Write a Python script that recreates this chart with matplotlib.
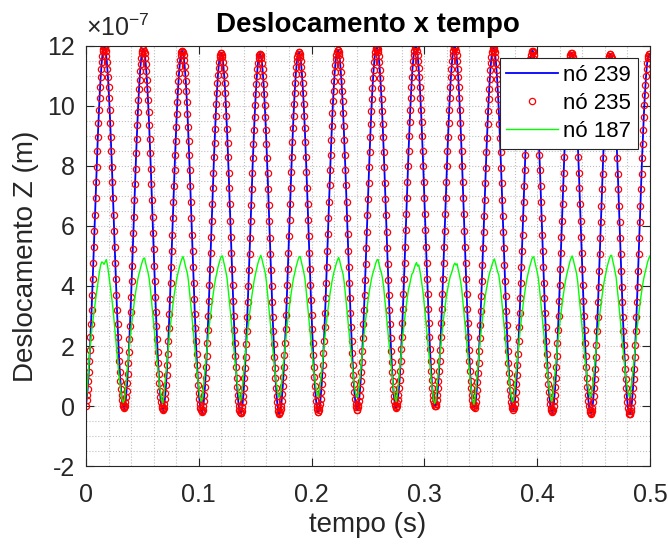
# Deslocamento Z x tempo - nos 239, 235 e 187
import numpy as np
import matplotlib
matplotlib.use('Agg')
import matplotlib.pyplot as plt
from matplotlib.ticker import MultipleLocator, FuncFormatter

plt.rcParams['font.family'] = ['Liberation Sans', 'DejaVu Sans']
plt.rcParams['mathtext.fontset'] = 'custom'
plt.rcParams['mathtext.rm'] = 'Liberation Sans'
plt.rcParams['axes.unicode_minus'] = False

# passo de tempo das series (s)
dt_239 = 0.0005
dt_187 = 0.001

# no 239 - deslocamento Z em nm (1e-9 m), um ciclo por linha
z_239 = [
    0, 19, 36, 58, 84, 115, 149, 187, 229, 274, 321, 371, 422, 475, 529, 583, 638, 692, 746, 798, 849, 897, 943, 986, 1026, 1062, 1095, 1123, 1147, 1167, 1182, 1191, 1196,
    1196, 1191, 1182, 1167, 1147, 1123, 1095, 1062, 1026, 986, 943, 897, 849, 798, 746, 692, 638, 583, 529, 475, 422, 371, 321, 274, 229, 187, 149, 115, 84, 58, 36, 19, 7, -1, -3,
    -8, 0, 12, 29, 51, 77, 108, 142, 180, 222, 267, 314, 364, 415, 468, 522, 576, 631, 685, 739, 791, 842, 890, 936, 979, 1019, 1055, 1088, 1116, 1140, 1160, 1175, 1184, 1189,
    1189, 1184, 1175, 1160, 1140, 1116, 1088, 1055, 1019, 979, 936, 890, 842, 791, 739, 685, 631, 576, 522, 468, 415, 364, 314, 267, 222, 180, 142, 108, 77, 51, 29, 12, 0, -8, -10,
    -14, -6, 6, 23, 45, 71, 102, 136, 174, 216, 261, 308, 358, 409, 462, 516, 570, 625, 679, 733, 785, 836, 884, 930, 973, 1013, 1049, 1082, 1110, 1134, 1154, 1169, 1178, 1183,
    1183, 1178, 1169, 1154, 1134, 1110, 1082, 1049, 1013, 973, 930, 884, 836, 785, 733, 679, 625, 570, 516, 462, 409, 358, 308, 261, 216, 174, 136, 102, 71, 45, 23, 6, -6, -14, -16,
    -21, -13, -1, 16, 38, 64, 95, 129, 167, 209, 254, 301, 351, 402, 455, 509, 563, 618, 672, 726, 778, 829, 877, 923, 966, 1006, 1042, 1075, 1103, 1127, 1147, 1162, 1171, 1176,
    1176, 1171, 1162, 1147, 1127, 1103, 1075, 1042, 1006, 966, 923, 877, 829, 778, 726, 672, 618, 563, 509, 455, 402, 351, 301, 254, 209, 167, 129, 95, 64, 38, 16, -1, -13, -21, -23,
    -24, -16, -4, 13, 35, 61, 92, 126, 164, 206, 251, 298, 348, 399, 452, 506, 560, 615, 669, 723, 775, 826, 874, 920, 963, 1003, 1039, 1072, 1100, 1124, 1144, 1159, 1168, 1173,
    1173, 1168, 1159, 1144, 1124, 1100, 1072, 1039, 1003, 963, 920, 874, 826, 775, 723, 669, 615, 560, 506, 452, 399, 348, 298, 251, 206, 164, 126, 92, 61, 35, 13, -4, -16, -24, -26,
    -19, -11, 1, 18, 40, 66, 97, 131, 169, 211, 256, 303, 353, 404, 457, 511, 565, 620, 674, 728, 780, 831, 879, 925, 968, 1008, 1044, 1077, 1105, 1129, 1149, 1164, 1173, 1178,
    1178, 1173, 1164, 1149, 1129, 1105, 1077, 1044, 1008, 968, 925, 879, 831, 780, 728, 674, 620, 565, 511, 457, 404, 353, 303, 256, 211, 169, 131, 97, 66, 40, 18, 1, -11, -19, -21,
    -12, -4, 8, 25, 47, 73, 104, 138, 176, 218, 263, 310, 360, 411, 464, 518, 572, 627, 681, 735, 787, 838, 886, 932, 975, 1015, 1051, 1084, 1112, 1136, 1156, 1171, 1180, 1185,
    1185, 1180, 1171, 1156, 1136, 1112, 1084, 1051, 1015, 975, 932, 886, 838, 787, 735, 681, 627, 572, 518, 464, 411, 360, 310, 263, 218, 176, 138, 104, 73, 47, 25, 8, -4, -12, -14,
    -3, 5, 17, 34, 56, 82, 113, 147, 185, 227, 272, 319, 369, 420, 473, 527, 581, 636, 690, 744, 796, 847, 895, 941, 984, 1024, 1060, 1093, 1121, 1145, 1165, 1180, 1189, 1194,
    1194, 1189, 1180, 1165, 1145, 1121, 1093, 1060, 1024, 984, 941, 895, 847, 796, 744, 690, 636, 581, 527, 473, 420, 369, 319, 272, 227, 185, 147, 113, 82, 56, 34, 17, 5, -3, -5,
    1, 9, 21, 38, 60, 86, 117, 151, 189, 231, 276, 323, 373, 424, 477, 531, 585, 640, 694, 748, 800, 851, 899, 945, 988, 1028, 1064, 1097, 1125, 1149, 1169, 1184, 1193, 1198,
    1198, 1193, 1184, 1169, 1149, 1125, 1097, 1064, 1028, 988, 945, 899, 851, 800, 748, 694, 640, 585, 531, 477, 424, 373, 323, 276, 231, 189, 151, 117, 86, 60, 38, 21, 9, 1, -1,
    0, 8, 20, 37, 59, 85, 116, 150, 188, 230, 275, 322, 372, 423, 476, 530, 584, 639, 693, 747, 799, 850, 898, 944, 987, 1027, 1063, 1096, 1124, 1148, 1168, 1183, 1192, 1197,
    1197, 1192, 1183, 1168, 1148, 1124, 1096, 1063, 1027, 987, 944, 898, 850, 799, 747, 693, 639, 584, 530, 476, 423, 372, 322, 275, 230, 188, 150, 116, 85, 59, 37, 20, 8, 0, -2,
    -5, 3, 15, 32, 54, 80, 111, 145, 183, 225, 270, 317, 367, 418, 471, 525, 579, 634, 688, 742, 794, 845, 893, 939, 982, 1022, 1058, 1091, 1119, 1143, 1163, 1178, 1187, 1192,
    1192, 1187, 1178, 1163, 1143, 1119, 1091, 1058, 1022, 982, 939, 893, 845, 794, 742, 688, 634, 579, 525, 471, 418, 367, 317, 270, 225, 183, 145, 111, 80, 54, 32, 15, 3, -5, -7,
    -13, -5, 7, 24, 46, 72, 103, 137, 175, 217, 262, 309, 359, 410, 463, 517, 571, 626, 680, 734, 786, 837, 885, 931, 974, 1014, 1050, 1083, 1111, 1135, 1155, 1170, 1179, 1184,
    1184, 1179, 1170, 1155, 1135, 1111, 1083, 1050, 1014, 974, 931, 885, 837, 786, 734, 680, 626, 571, 517, 463, 410, 359, 309, 262, 217, 175, 137, 103, 72, 46, 24, 7, -5, -13, -15,
    -21, -13, -1, 16, 38, 64, 95, 129, 167, 209, 254, 301, 351, 402, 455, 509, 563, 618, 672, 726, 778, 829, 877, 923, 966, 1006, 1042, 1075, 1103, 1127, 1147, 1162, 1171, 1176,
    1176, 1171, 1162, 1147, 1127, 1103, 1075, 1042, 1006, 966, 923, 877, 829, 778, 726, 672, 618, 563, 509, 455, 402, 351, 301, 254, 209, 167, 129, 95, 64, 38, 16, -1, -13, -21, -23,
    -25, -17, -5, 12, 34, 60, 91, 125, 163, 205, 250, 297, 347, 398, 451, 505, 559, 614, 668, 722, 774, 825, 873, 919, 962, 1002, 1038, 1071, 1099, 1123, 1143, 1158, 1167, 1172,
    1172, 1167, 1158, 1143, 1123, 1099, 1071, 1038, 1002, 962, 919, 873, 825, 774, 722, 668, 614, 559, 505, 451, 398, 347, 297, 250, 205, 163, 125, 91, 60, 34, 12, -5, -17, -25, -27,
    -25, -17, -5, 12, 34, 60, 91, 125, 163, 205, 250, 297, 347, 398, 451, 505, 559, 614, 668, 722, 774, 825, 873, 919, 962, 1002, 1038, 1071, 1099, 1123, 1143, 1158, 1167, 1172,
    1172, 1167,
]

# no 235 fica em cima do 239 (mesma curva na figura)
z_235 = list(z_239)

# no 187 - deslocamento Z em nm, passo 1 ms
z_187 = [
    0, 55, 115, 165, 210, 250, 280, 310, 340, 368, 395, 420, 448, 470, 480, 478, 472, 480, 488, 470, 445, 415, 385, 355, 322, 282, 240, 196, 152, 112, 75, 45, 22, 12,
    20, 57, 99, 138, 178, 218, 255, 290, 321, 351, 378, 402, 423, 440, 455, 469, 482, 492, 493, 475, 459, 445, 425, 393, 355, 315, 275, 235, 195, 155, 116, 75, 47, 21,
    10, 35, 75, 118, 158, 198, 237, 273, 306, 336, 365, 390, 414, 434, 450, 465, 479, 490, 498, 486, 469, 455, 440, 412, 374, 335, 295, 255, 215, 175, 135, 93, 61, 32, 16,
    22, 58, 99, 138, 178, 218, 255, 290, 321, 351, 378, 405, 427, 443, 462, 476, 489, 499, 500, 482, 466, 448, 428, 393, 355, 315, 275, 235, 195, 155, 116, 79, 51, 29,
    18, 43, 79, 118, 158, 198, 237, 273, 306, 336, 365, 390, 416, 435, 452, 469, 483, 494, 502, 490, 473, 459, 442, 413, 374, 335, 295, 255, 215, 175, 135, 99, 68, 45, 29,
    35, 65, 99, 138, 178, 218, 255, 290, 321, 351, 378, 404, 426, 442, 460, 474, 487, 497, 498, 480, 464, 447, 427, 393, 355, 315, 275, 235, 195, 155, 116, 85, 57, 41,
    30, 55, 85, 118, 158, 198, 237, 273, 306, 336, 365, 390, 413, 432, 448, 462, 476, 487, 495, 483, 466, 452, 438, 410, 374, 335, 295, 255, 215, 175, 135, 99, 68, 45, 29,
    35, 65, 99, 138, 178, 218, 255, 290, 321, 351, 378, 400, 421, 438, 450, 464, 477, 487, 488, 470, 454, 443, 423, 393, 355, 315, 275, 235, 195, 155, 116, 78, 50, 26,
    15, 40, 78, 118, 158, 198, 237, 273, 306, 336, 365, 390, 405, 424, 440, 445, 459, 470, 478, 466, 470, 452, 428, 400, 374, 335, 295, 255, 215, 175, 135, 90, 58, 25, 9,
    15, 55, 99, 138, 178, 218, 255, 290, 321, 351, 378, 396, 416, 433, 442, 456, 469, 476, 470, 474, 455, 438, 418, 393, 355, 315, 275, 235, 195, 155, 116, 72, 44, 16,
    5, 30, 72, 118, 158, 198, 237, 273, 306, 336, 365, 390, 410, 430, 446, 457, 471, 482, 490, 478, 461, 447, 436, 408, 374, 335, 295, 255, 215, 175, 135, 92, 60, 30, 14,
    20, 57, 99, 138, 178, 218, 255, 290, 321, 351, 378, 404, 425, 442, 459, 473, 486, 496, 497, 479, 463, 447, 427, 393, 355, 315, 275, 235, 195, 155, 116, 78, 50, 26,
    15, 40, 78, 118, 158, 198, 237, 273, 306, 336, 365, 390, 415, 434, 450, 467, 481, 492, 500, 488, 471, 457, 440, 412, 374, 335, 295, 255, 215, 175, 135, 99, 68, 45, 29,
    35, 65, 99, 138, 178, 218, 255, 290, 321, 351, 378, 406, 427, 444, 464, 478, 491, 501, 502, 484, 468, 449, 429, 393, 355, 315, 275, 235, 195, 155, 116, 85, 57, 41,
    30, 55, 85, 118, 158, 198, 237, 273, 306, 336, 365, 390, 415, 434, 450, 467, 481, 492, 500,
]

assert len(z_239) == 1001, len(z_239)
assert len(z_187) == 501, len(z_187)

t_239 = np.arange(len(z_239)) * dt_239
t_187 = np.arange(len(z_187)) * dt_187

cor_eixo = (0.15, 0.15, 0.15)
escala = 1e-7  # eixo y mostrado em unidades de 1e-7 m

fig = plt.figure(figsize=(6.68, 5.47), dpi=100)
ax = fig.add_axes([0.1287, 0.148, 0.8443, 0.7681])

ax.plot(t_239, np.array(z_239) * 1e-9, color='b', lw=1.3, label='nó 239')
ax.plot(t_239, np.array(z_235) * 1e-9, ls='none', marker='o', ms=4.5, mew=0.9,
        mec='r', mfc='none', label='nó 235')
ax.plot(t_187, np.array(z_187) * 1e-9, color=(0, 1, 0), lw=1.0, label='nó 187')

ax.set_xlim(0, 0.5)
ax.set_ylim(-2e-7, 12e-7)
ax.set_xticks(np.arange(0, 0.51, 0.1))
ax.set_yticks(np.arange(-2, 13, 2) * escala)
ax.xaxis.set_major_formatter(FuncFormatter(lambda v, p: '%g' % round(v, 3)))
ax.yaxis.set_major_formatter(FuncFormatter(lambda v, p: '%g' % round(v / escala, 3)))
ax.text(0.0, 1.012, r'$\times10^{-7}$', transform=ax.transAxes, fontsize=18,
        color=cor_eixo, ha='left', va='bottom')

ax.xaxis.set_minor_locator(MultipleLocator(0.02))
ax.yaxis.set_minor_locator(MultipleLocator(0.5e-7))
ax.grid(True, which='both', ls=':', color=(0.75, 0.75, 0.75), lw=0.8)
ax.set_axisbelow(True)

ax.tick_params(which='major', direction='in', top=True, right=True, length=6,
               width=0.8, labelsize=18, colors=cor_eixo)
ax.tick_params(axis='x', which='major', pad=12)
ax.tick_params(axis='y', which='major', pad=8)
ax.tick_params(which='minor', length=0)
for s in ax.spines.values():
    s.set_color(cor_eixo)
    s.set_linewidth(0.8)

ax.set_title('Deslocamento x tempo', fontsize=20, fontweight='bold', pad=10)
ax.set_xlabel('tempo (s)', fontsize=20, color=cor_eixo, labelpad=4)
ax.set_ylabel('Deslocamento Z (m)', fontsize=20, color=cor_eixo, labelpad=6)

leg = ax.legend(loc='upper right', fontsize=16, numpoints=1, handlelength=2.3,
                handletextpad=0.25, labelspacing=0.32, borderpad=0.3,
                borderaxespad=0.55, fancybox=False, framealpha=1,
                edgecolor=cor_eixo)
leg.get_frame().set_linewidth(0.8)

plt.savefig('out.png', dpi=100)
